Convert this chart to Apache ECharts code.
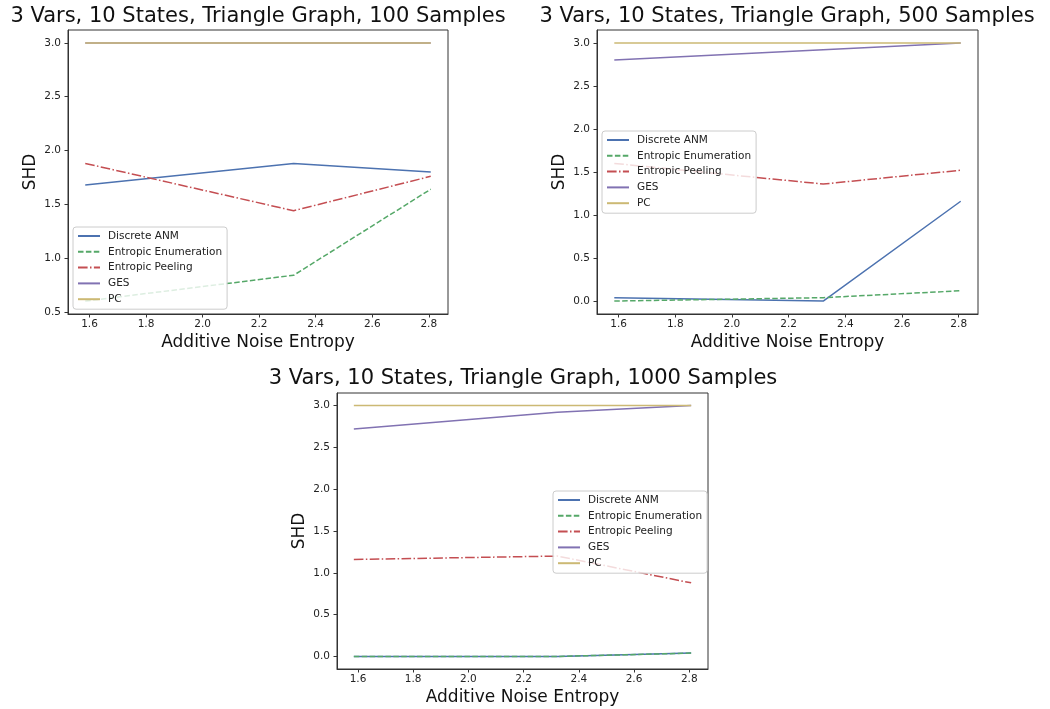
<!DOCTYPE html>
<html>
<head>
<meta charset="utf-8">
<title>SHD vs Additive Noise Entropy</title>
<script src="https://cdn.jsdelivr.net/npm/echarts@6/dist/echarts.min.js"></script>
<style>
  html, body { margin: 0; padding: 0; background: #fff; }
  #chart { width: 1050px; height: 709px; }
</style>
</head>
<body>
<div id="chart"></div>
<script>
// x positions: additive noise entropy (bits)
const noiseEntropy = [1.585, 2.322, 2.807];
const methods = ['Discrete ANM', 'Entropic Enumeration', 'Entropic Peeling', 'GES', 'PC'];

// tick labels
const xTicks = [1.6, 1.8, 2.0, 2.2, 2.4, 2.6, 2.8];
const yTicks100 = [0.5, 1.0, 1.5, 2.0, 2.5, 3.0];
const yTicks = [0.0, 0.5, 1.0, 1.5, 2.0, 2.5, 3.0];

// 100 samples
const anm100 = [1.68, 1.88, 1.80];
const enum100 = [0.60, 0.84, 1.64];
const peel100 = [1.88, 1.44, 1.76];
const ges100 = [3.0, 3.0, 3.0];
const pc100 = [3.0, 3.0, 3.0];

// 500 samples
const anm500 = [0.04, 0.00, 1.16];
const enum500 = [0.00, 0.04, 0.12];
const peel500 = [1.60, 1.36, 1.52];
const ges500 = [2.80, 2.92, 3.0];
const pc500 = [3.0, 3.0, 3.0];

// 1000 samples
const anm1000 = [0.00, 0.00, 0.04];
const enum1000 = [0.00, 0.00, 0.04];
const peel1000 = [1.16, 1.20, 0.88];
const ges1000 = [2.72, 2.92, 3.0];
const pc1000 = [3.0, 3.0, 3.0];

const titles = [
  '3 Vars, 10 States, Triangle Graph, 100 Samples',
  '3 Vars, 10 States, Triangle Graph, 500 Samples',
  '3 Vars, 10 States, Triangle Graph, 1000 Samples'
];

// line look per method
const colors = ['#4C72B0', '#55A868', '#C44E52', '#8172B2', '#CCB974'];
const dashes = ['solid', [5.5, 2.4], [9.6, 2.4, 1.5, 2.4], 'solid', 'solid'];

const panels = [
  { data: [anm100, enum100, peel100, ges100, pc100], yTicks: yTicks100, ymin: 0.48, ymax: 3.12,
    grid: { left: 68, top: 30, width: 380, height: 284 }, titleX: 258, titleY: 6,
    legend: { left: 73, top: 227 } },
  { data: [anm500, enum500, peel500, ges500, pc500], yTicks: yTicks, ymin: -0.15, ymax: 3.15,
    grid: { left: 597, top: 30, width: 381, height: 284 }, titleX: 787, titleY: 6,
    legend: { left: 602, top: 131 } },
  { data: [anm1000, enum1000, peel1000, ges1000, pc1000], yTicks: yTicks, ymin: -0.15, ymax: 3.15,
    grid: { left: 337, top: 393, width: 371, height: 276 }, titleX: 523, titleY: 368,
    legend: { left: 553, top: 491 } }
];

const FONT = 'DejaVu Sans';
const axisLineStyle = { color: '#333', width: 1 };

const option = {
  animation: false,
  backgroundColor: '#fff',
  textStyle: { fontFamily: FONT },
  title: [], grid: [], xAxis: [], yAxis: [], legend: [], series: []
};

panels.forEach((p, i) => {
  option.title.push({
    text: titles[i], left: p.titleX, top: p.titleY, textAlign: 'center', padding: 0,
    textStyle: { fontFamily: FONT, fontSize: 21, fontWeight: 'normal', color: '#111' }
  });
  option.grid.push(Object.assign({ show: true, borderColor: '#333', borderWidth: 1, backgroundColor: '#fff' }, p.grid));
  option.xAxis.push({
    type: 'value', gridIndex: i, min: 1.524, max: 2.868,
    name: 'Additive Noise Entropy', nameLocation: 'middle', nameGap: 20,
    nameTextStyle: { fontFamily: FONT, fontSize: 17, color: '#111' },
    axisLine: { show: true, onZero: false, lineStyle: axisLineStyle },
    axisTick: { show: true, length: 3.5, customValues: xTicks, lineStyle: axisLineStyle },
    axisLabel: { customValues: xTicks, margin: 5, fontSize: 10.5, color: '#222', fontFamily: FONT,
                 formatter: v => v.toFixed(1) },
    splitLine: { show: false }
  });
  option.yAxis.push({
    type: 'value', gridIndex: i, min: p.ymin, max: p.ymax,
    name: 'SHD', nameLocation: 'middle', nameGap: 29, nameRotate: 90,
    nameTextStyle: { fontFamily: FONT, fontSize: 17, color: '#111' },
    axisLine: { show: true, onZero: false, lineStyle: axisLineStyle },
    axisTick: { show: true, length: 3.5, customValues: p.yTicks, lineStyle: axisLineStyle },
    axisLabel: { customValues: p.yTicks, margin: 7, fontSize: 10.5, color: '#222', fontFamily: FONT,
                 formatter: v => v.toFixed(1) },
    splitLine: { show: false }
  });
  option.legend.push({
    data: methods, orient: 'vertical', left: p.legend.left, top: p.legend.top,
    padding: [3, 5, 4, 4], itemGap: 3.8, itemWidth: 22, itemHeight: 12,
    backgroundColor: 'rgba(255,255,255,0.8)', borderColor: '#ccc', borderWidth: 1, borderRadius: 3,
    itemStyle: { opacity: 0 },
    textStyle: { fontFamily: FONT, fontSize: 10.5, color: '#222', lineHeight: 12, padding: [0, 0, 0, 3] },
    selectedMode: false
  });
  p.data.forEach((vals, k) => {
    option.series.push({
      type: 'line', name: methods[k], xAxisIndex: i, yAxisIndex: i,
      symbol: 'none', silent: true,
      data: noiseEntropy.map((x, j) => [x, vals[j]]),
      lineStyle: { color: colors[k], width: 1.5, type: dashes[k] },
      itemStyle: { color: colors[k] }
    });
  });
});

const chart = echarts.init(document.getElementById('chart'), null, { renderer: 'canvas' });
chart.setOption(option);
</script>
</body>
</html>
